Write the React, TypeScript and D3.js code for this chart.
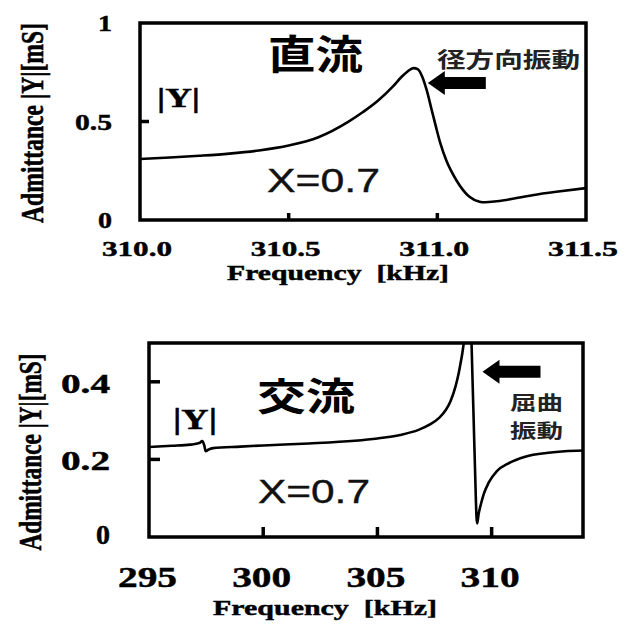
import React from "react";
import * as d3 from "d3";

// ---- DC panel (直流) ----
const dcFreq = [310.0, 310.1, 310.2, 310.3, 310.4, 310.5, 310.6, 310.7, 310.75, 310.8, 310.85, 310.88, 310.9, 310.92, 310.935, 310.95, 310.965, 310.98, 310.995, 311.01, 311.03, 311.064, 311.108, 311.142, 311.16, 311.2, 311.32, 311.4, 311.5];
const dcAdm = [0.31, 0.317, 0.326, 0.337, 0.353, 0.378, 0.42, 0.498, 0.548, 0.605, 0.677, 0.727, 0.754, 0.771, 0.765, 0.725, 0.655, 0.565, 0.475, 0.39, 0.303, 0.202, 0.118, 0.093, 0.09, 0.095, 0.126, 0.143, 0.162];
const dcXTicks = [310.0, 310.5, 311.0, 311.5];
const dcYTicks = [0, 0.5, 1];

// ---- AC panel (交流) ----
const acFreqA = [295.0, 296.0, 296.8, 297.2, 297.33, 297.42, 297.48, 297.6, 297.8, 299.0, 300.0, 302.0, 304.0, 305.0, 306.0, 306.8, 307.3, 307.7, 308.0, 308.2, 308.42, 308.55, 308.64, 308.72, 308.8, 308.85];
const acAdmA = [0.232, 0.235, 0.238, 0.242, 0.247, 0.236, 0.221, 0.225, 0.229, 0.233, 0.236, 0.241, 0.248, 0.254, 0.263, 0.276, 0.29, 0.307, 0.328, 0.35, 0.388, 0.42, 0.448, 0.475, 0.51, 0.54];
const acFreqB = [309.1, 309.12, 309.2, 309.28, 309.34, 309.37, 309.43, 309.51, 309.65, 309.87, 310.23, 310.74, 311.47, 312.48, 313.2, 314.0];
const acAdmB = [0.55, 0.5, 0.33, 0.16, 0.05, 0.035, 0.059, 0.08, 0.11, 0.14, 0.17, 0.19, 0.207, 0.217, 0.221, 0.223];
const acXTicks = [295, 300, 305, 310];
const acYTicks = [0, 0.2, 0.4];

const yLabel = "Admittance |Y|[mS]";
const xLabel = "Frequency  [kHz]";

const SERIF = "'Liberation Serif', 'Times New Roman', serif";
const SANS = "'Liberation Sans', Arial, sans-serif";
const CJK = "'Noto Sans CJK JP', 'Noto Sans CJK SC', sans-serif";

const zip = (xs: number[], ys: number[]) => xs.map((x, i) => [x, ys[i]] as [number, number]);

function Arrow({ x, y }: { x: number; y: number }) {
  // left-pointing block arrow, tip at (x, y)
  const pts = [
    [x, y],
    [x + 17, y - 12],
    [x + 17, y - 6],
    [x + 58, y - 6],
    [x + 58, y + 6],
    [x + 17, y + 6],
    [x + 17, y + 12],
  ];
  return <polygon points={pts.map((p) => p.join(",")).join(" ")} fill="#000" />;
}

const boldSerif = { fontFamily: SERIF, fontWeight: "bold" as const, stroke: "#000", strokeWidth: 0.45 };

export default function App() {
  // DC panel scales
  const dx = d3.scaleLinear().domain([310.0, 311.5]).range([140, 586]);
  const dy = d3.scaleLinear().domain([0, 1]).range([220, 23]);
  // AC panel scales
  const ax = d3.scaleLinear().domain([295, 314]).range([149, 583]);
  const ay = d3.scaleLinear().domain([0, 0.5]).range([537, 343]);

  const dcLine = d3
    .line<[number, number]>()
    .x((d) => dx(d[0]))
    .y((d) => dy(d[1]))
    .curve(d3.curveMonotoneX);
  const acLine = d3
    .line<[number, number]>()
    .x((d) => ax(d[0]))
    .y((d) => ay(d[1]))
    .curve(d3.curveMonotoneX);

  const tickW = 3.5;
  const frameW = 3.5;

  return (
    <svg
      width={631}
      height={624}
      viewBox="0 0 631 624"
      style={{ position: "absolute", left: 0, top: 0, background: "#fff" }}
    >
      <rect x={0} y={0} width={631} height={624} fill="#fff" />
      <defs>
        <clipPath id="clipDC">
          <rect x={dx.range()[0]} y={dy.range()[1]} width={dx.range()[1] - dx.range()[0]} height={dy.range()[0] - dy.range()[1]} />
        </clipPath>
        <clipPath id="clipAC">
          <rect x={ax.range()[0]} y={ay.range()[1]} width={ax.range()[1] - ax.range()[0]} height={ay.range()[0] - ay.range()[1]} />
        </clipPath>
      </defs>

      {/* ================= DC panel ================= */}
      <g>
        <path d={dcLine(zip(dcFreq, dcAdm)) || ""} fill="none" stroke="#000" strokeWidth={2.6} clipPath="url(#clipDC)" />
        {dcYTicks.filter((v) => v > 0 && v < 1).map((v) => (
          <line key={"dyt" + v} x1={dx.range()[0]} x2={dx.range()[0] + 9} y1={dy(v)} y2={dy(v)} stroke="#000" strokeWidth={tickW} />
        ))}
        {dcXTicks.slice(1, -1).map((v) => (
          <line key={"dxt" + v} x1={dx(v)} x2={dx(v)} y1={dy(0)} y2={dy(0) - 7} stroke="#000" strokeWidth={tickW} />
        ))}
        <rect x={dx.range()[0]} y={dy.range()[1]} width={dx.range()[1] - dx.range()[0]} height={dy.range()[0] - dy.range()[1]} fill="none" stroke="#000" strokeWidth={frameW} />
        {dcYTicks.map((v) => (
          <text key={"dyl" + v} x={112} y={dy(v) + 8} textAnchor="end" {...boldSerif} fontSize={24}
            textLength={v === 0.5 ? 37 : 14} lengthAdjust="spacingAndGlyphs">
            {String(v)}
          </text>
        ))}
        {dcXTicks.map((v) => (
          <text key={"dxl" + v} x={dx(v) - 3} y={256} textAnchor="middle" {...boldSerif} fontSize={22}
            textLength={70} lengthAdjust="spacingAndGlyphs">
            {v.toFixed(1)}
          </text>
        ))}
        <text x={338} y={280} textAnchor="middle" {...boldSerif} fontSize={21}
          textLength={222} lengthAdjust="spacingAndGlyphs" style={{ whiteSpace: "pre" }}>
          {xLabel}
        </text>
        <text transform="translate(43,123) scale(1.3,1) rotate(-90)" textAnchor="middle" {...boldSerif} fontSize={24}
          textLength={200} lengthAdjust="spacingAndGlyphs">
          {yLabel}
        </text>
        <text x={315.5} y={69} textAnchor="middle" fontFamily={CJK} fontWeight="bold" fontSize={40} textLength={95} lengthAdjust="spacingAndGlyphs">直流</text>
        <text x={178.5} y={107} textAnchor="middle" {...boldSerif} fontSize={27} textLength={43} lengthAdjust="spacingAndGlyphs">|Y|</text>
        <text x={323.5} y={192} textAnchor="middle" fontFamily={SANS} fontSize={33} textLength={113} lengthAdjust="spacingAndGlyphs" fill="#111" stroke="#111" strokeWidth={0.4}>X=0.7</text>
        <text x={508.5} y={67} textAnchor="middle" fontFamily={CJK} fontWeight={600} fontSize={21} textLength={143} lengthAdjust="spacingAndGlyphs" fill="#222">径方向振動</text>
        <Arrow x={dx(310.968)} y={dy(0.695)} />
      </g>

      {/* ================= AC panel ================= */}
      <g>
        <g clipPath="url(#clipAC)">
          <path d={acLine(zip(acFreqA, acAdmA)) || ""} fill="none" stroke="#000" strokeWidth={2.6} />
          <path d={acLine(zip(acFreqB, acAdmB)) || ""} fill="none" stroke="#000" strokeWidth={2.6} />
        </g>
        {acYTicks.filter((v) => v > 0).map((v) => (
          <line key={"ayt" + v} x1={ax.range()[0]} x2={ax.range()[0] + 11} y1={ay(v)} y2={ay(v)} stroke="#000" strokeWidth={tickW} />
        ))}
        {acXTicks.slice(1).map((v) => (
          <line key={"axt" + v} x1={ax(v)} x2={ax(v)} y1={ay(0)} y2={ay(0) - 10} stroke="#000" strokeWidth={tickW} />
        ))}
        <rect x={ax.range()[0]} y={ay.range()[1]} width={ax.range()[1] - ax.range()[0]} height={ay.range()[0] - ay.range()[1]} fill="none" stroke="#000" strokeWidth={frameW} />
        {acYTicks.map((v) => (
          <text key={"ayl" + v} x={110} y={ay(v) + (v === 0 ? 7 : 11)} textAnchor="end" {...boldSerif} fontSize={27}
            textLength={v === 0 ? 14 : 49} lengthAdjust="spacingAndGlyphs">
            {String(v)}
          </text>
        ))}
        {acXTicks.map((v) => (
          <text key={"axl" + v} x={ax(v) - 1.5} y={587} textAnchor="middle" {...boldSerif} fontSize={29}
            textLength={59} lengthAdjust="spacingAndGlyphs">
            {String(v)}
          </text>
        ))}
        <text x={325} y={615} textAnchor="middle" {...boldSerif} fontSize={22}
          textLength={224} lengthAdjust="spacingAndGlyphs" style={{ whiteSpace: "pre" }}>
          {xLabel}
        </text>
        <text transform="translate(41,452) scale(1.3,1) rotate(-90)" textAnchor="middle" {...boldSerif} fontSize={24}
          textLength={197} lengthAdjust="spacingAndGlyphs">
          {yLabel}
        </text>
        <text x={306} y={410} textAnchor="middle" fontFamily={CJK} fontWeight="bold" fontSize={38} textLength={98} lengthAdjust="spacingAndGlyphs">交流</text>
        <text x={195} y={429} textAnchor="middle" {...boldSerif} fontSize={29} textLength={44} lengthAdjust="spacingAndGlyphs">|Y|</text>
        <text x={314} y={503} textAnchor="middle" fontFamily={SANS} fontSize={34} textLength={112} lengthAdjust="spacingAndGlyphs" fill="#111" stroke="#111" strokeWidth={0.4}>X=0.7</text>
        <text x={536.5} y={410} textAnchor="middle" fontFamily={CJK} fontWeight={600} fontSize={19} textLength={53} lengthAdjust="spacingAndGlyphs" fill="#222">屈曲</text>
        <text x={536.5} y={438} textAnchor="middle" fontFamily={CJK} fontWeight={600} fontSize={19} textLength={53} lengthAdjust="spacingAndGlyphs" fill="#222">振動</text>
        <Arrow x={ax(309.6)} y={ay(0.426)} />
      </g>
    </svg>
  );
}
